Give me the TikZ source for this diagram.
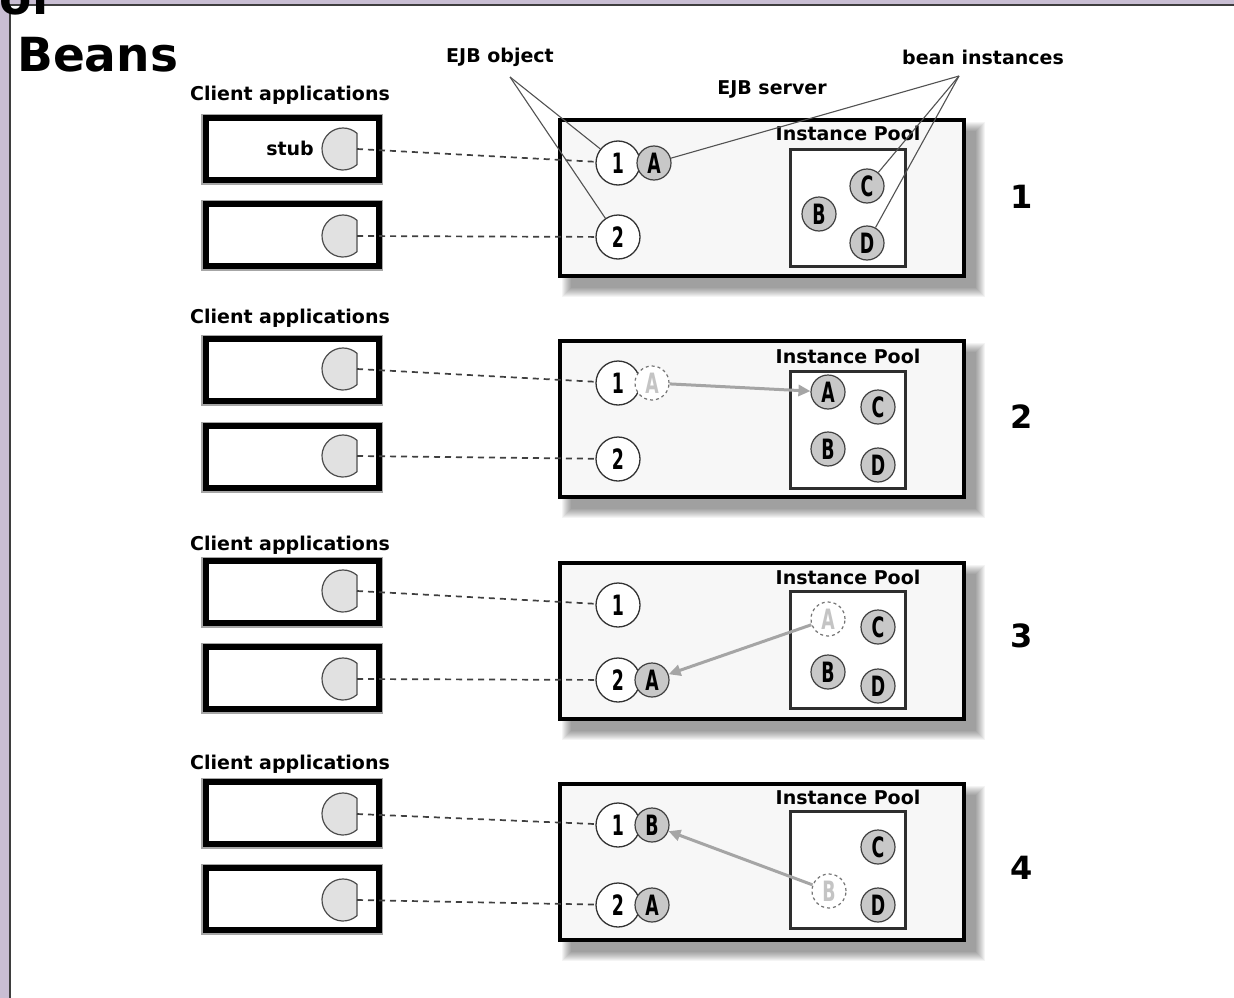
\documentclass[tikz,border=0pt]{standalone}
\usepackage{fontspec}
\setmainfont{DejaVu Sans}
\usetikzlibrary{arrows.meta,calc}

\definecolor{framebg}{RGB}{201,190,211}
\definecolor{frameline}{RGB}{62,62,62}
\definecolor{srvfill}{RGB}{247,247,247}
\definecolor{beanfill}{RGB}{200,200,200}
\definecolor{stubfill}{RGB}{225,225,225}
\definecolor{ghosttext}{RGB}{196,196,196}
\definecolor{movecol}{RGB}{165,165,165}

\pgfdeclarelayer{bg}
\pgfdeclarelayer{shade}
\pgfsetlayers{bg,shade,main}

% condensed bold glyph used inside the small circles
\newcommand\cl[1]{\scalebox{0.62}[1]{\fontsize{28}{28}\selectfont\bfseries #1}}

% client-side stub: a disc with its right side cut flat
\newcommand\stubmark[2]{%
  \coordinate (#1) at (343,#2);
  \filldraw[stubshape] (#1) ++(48:21) arc[start angle=48,end angle=312,radius=21] -- cycle;
  \coordinate (#1-e) at (357,#2);
}

% soft drop shadow below and right of a server box
\newcommand\srvshadow[1]{%
  \begin{pgfonlayer}{shade}
    \foreach \k in {0,...,9}{
      \fill[black,opacity=0.045] ($(#1.north west)+(4+\k,4+\k)$) rectangle ($(#1.south east)+(19-\k,19-\k)$);
    }
  \end{pgfonlayer}}

\tikzset{
  lbl/.style={font=\fontsize{19}{22}\selectfont\bfseries, inner sep=0pt},
  title/.style={font=\fontsize{47}{50}\selectfont\bfseries, inner sep=0pt},
  num/.style={font=\fontsize{32}{34}\selectfont\bfseries, inner sep=0pt},
  clientbox/.style={draw=black, line width=6pt, fill=white, minimum width=173pt,
    minimum height=62pt, inner sep=0pt, preaction={draw=black!35, line width=9pt}},
  serverbox/.style={draw=black, line width=4pt, fill=srvfill, minimum width=404pt,
    minimum height=156pt, inner sep=0pt},
  poolbox/.style={draw=black!82, line width=3.5pt, fill=white, minimum width=115pt,
    minimum height=117pt, inner sep=0pt},
  ejbobj/.style={circle, draw=black!80, line width=1.3pt, fill=white,
    minimum size=44pt, inner sep=0pt},
  bean/.style={circle, draw=black!75, line width=1.2pt, fill=beanfill,
    minimum size=34pt, inner sep=0pt},
  ghostbean/.style={circle, draw=black!55, dash pattern=on 3pt off 3pt, line width=1.2pt,
    fill=white, minimum size=34pt, inner sep=0pt, text=ghosttext},
  stubshape/.style={fill=stubfill, draw=black!70, line width=1.2pt},
  link/.style={draw=black!75, line width=1.7pt, dash pattern=on 6pt off 5pt},
  leader/.style={draw=black!68, line width=1.1pt},
  move/.style={draw=movecol, line width=3pt, -{Triangle[length=12pt,width=11pt]}},
}

\begin{document}
\begin{tikzpicture}[x=1pt,y=-1pt]
\useasboundingbox (0,0) rectangle (1234,998);

% page frame
\begin{pgfonlayer}{bg}
  \fill[framebg] (0,0) rectangle (1234,998);
  \fill[white] (11,6) rectangle (1234,998);
  \fill[frameline] (9,4) rectangle (1234,6);
  \fill[frameline] (9,4) rectangle (11,998);
\end{pgfonlayer}

% heading
\node[title, anchor=base west] (ttlof) at (-1,15) {of};
\node[title, anchor=base west] (ttlbeans) at (17,71) {Beans};

% ---------------- stage 1 ----------------
\node[lbl] (cap1) at (290,95) {Client applications};
\node[clientbox] (p1c1) at (292,149) {};
\node[clientbox] (p1c2) at (292,235) {};
\stubmark{p1s1}{149}
\stubmark{p1s2}{236}
\node[lbl, anchor=east] (stublbl) at (314,148) {stub};

\node[serverbox] (p1srv) at (762,198) {};
\srvshadow{p1srv}
\node[poolbox] (p1pool) at (848,208) {};
\node[lbl] (p1pl) at (848,133) {Instance Pool};

\node[lbl] (ejbobj) at (500,57) {EJB object};
\node[lbl] (beaninst) at (983,57) {bean instances};
\node[lbl] (ejbsrv) at (772,89) {EJB server};
\coordinate (ejbpt) at (510,77);
\coordinate (beanpt) at (959,76);

\node[ejbobj] (p1o1) at (618,163) {\cl{1}};
\node[bean] (p1A) at (654,163) {\cl{A}};
\node[ejbobj] (p1o2) at (618,237) {\cl{2}};
\node[bean] (p1C) at (867,186) {\cl{C}};
\node[bean] (p1B) at (819,214) {\cl{B}};
\node[bean] (p1D) at (867,243) {\cl{D}};

\draw[link] (p1s1-e) -- (p1o1);
\draw[link] (p1s2-e) -- (p1o2);
\draw[leader] (ejbpt) -- (p1o1);
\draw[leader] (ejbpt) -- (p1o2);
\draw[leader] (beanpt) -- (p1A);
\draw[leader] (beanpt) -- (p1C);
\draw[leader] (beanpt) -- (p1D);

\node[num] (n1) at (1022,197) {1};

% ---------------- stage 2 ----------------
\node[lbl] (cap2) at (290,318) {Client applications};
\node[clientbox] (p2c1) at (292,370) {};
\node[clientbox] (p2c2) at (292,457) {};
\stubmark{p2s1}{369}
\stubmark{p2s2}{456}

\node[serverbox] (p2srv) at (762,419) {};
\srvshadow{p2srv}
\node[poolbox] (p2pool) at (848,430) {};
\node[lbl] (p2pl) at (848,356) {Instance Pool};

\node[ejbobj] (p2o1) at (618,383) {\cl{1}};
\node[ghostbean] (p2g) at (652,383) {\cl{A}};
\node[ejbobj] (p2o2) at (618,459) {\cl{2}};
\node[bean] (p2A) at (828,392) {\cl{A}};
\node[bean] (p2C) at (878,407) {\cl{C}};
\node[bean] (p2B) at (828,449) {\cl{B}};
\node[bean] (p2D) at (878,465) {\cl{D}};

\draw[link] (p2s1-e) -- (p2o1);
\draw[link] (p2s2-e) -- (p2o2);
\draw[move] (p2g) -- (p2A);

\node[num] (n2) at (1022,417) {2};

% ---------------- stage 3 ----------------
\node[lbl] (cap3) at (290,545) {Client applications};
\node[clientbox] (p3c1) at (292,592) {};
\node[clientbox] (p3c2) at (292,678) {};
\stubmark{p3s1}{591}
\stubmark{p3s2}{679}

\node[serverbox] (p3srv) at (762,641) {};
\srvshadow{p3srv}
\node[poolbox] (p3pool) at (848,650) {};
\node[lbl] (p3pl) at (848,577) {Instance Pool};

\node[ejbobj] (p3o1) at (618,605) {\cl{1}};
\node[ejbobj] (p3o2) at (618,680) {\cl{2}};
\node[bean] (p3A) at (652,680) {\cl{A}};
\node[ghostbean] (p3g) at (828,619) {\cl{A}};
\node[bean] (p3C) at (878,627) {\cl{C}};
\node[bean] (p3B) at (828,672) {\cl{B}};
\node[bean] (p3D) at (878,686) {\cl{D}};

\draw[link] (p3s1-e) -- (p3o1);
\draw[link] (p3s2-e) -- (p3o2);
\draw[move] (p3g) -- (p3A);

\node[num] (n3) at (1022,636) {3};

% ---------------- stage 4 ----------------
\node[lbl] (cap4) at (290,764) {Client applications};
\node[clientbox] (p4c1) at (292,813) {};
\node[clientbox] (p4c2) at (292,899) {};
\stubmark{p4s1}{814}
\stubmark{p4s2}{900}

\node[serverbox] (p4srv) at (762,862) {};
\srvshadow{p4srv}
\node[poolbox] (p4pool) at (848,870) {};
\node[lbl] (p4pl) at (848,797) {Instance Pool};

\node[ejbobj] (p4o1) at (618,825) {\cl{1}};
\node[bean] (p4B) at (652,825) {\cl{B}};
\node[ejbobj] (p4o2) at (618,905) {\cl{2}};
\node[bean] (p4A) at (652,905) {\cl{A}};
\node[bean] (p4C) at (878,847) {\cl{C}};
\node[ghostbean] (p4g) at (829,891) {\cl{B}};
\node[bean] (p4D) at (878,905) {\cl{D}};

\draw[link] (p4s1-e) -- (p4o1);
\draw[link] (p4s2-e) -- (p4o2);
\draw[move] (p4g) -- (p4B);

\node[num] (n4) at (1022,868) {4};
\end{tikzpicture}
\end{document}
